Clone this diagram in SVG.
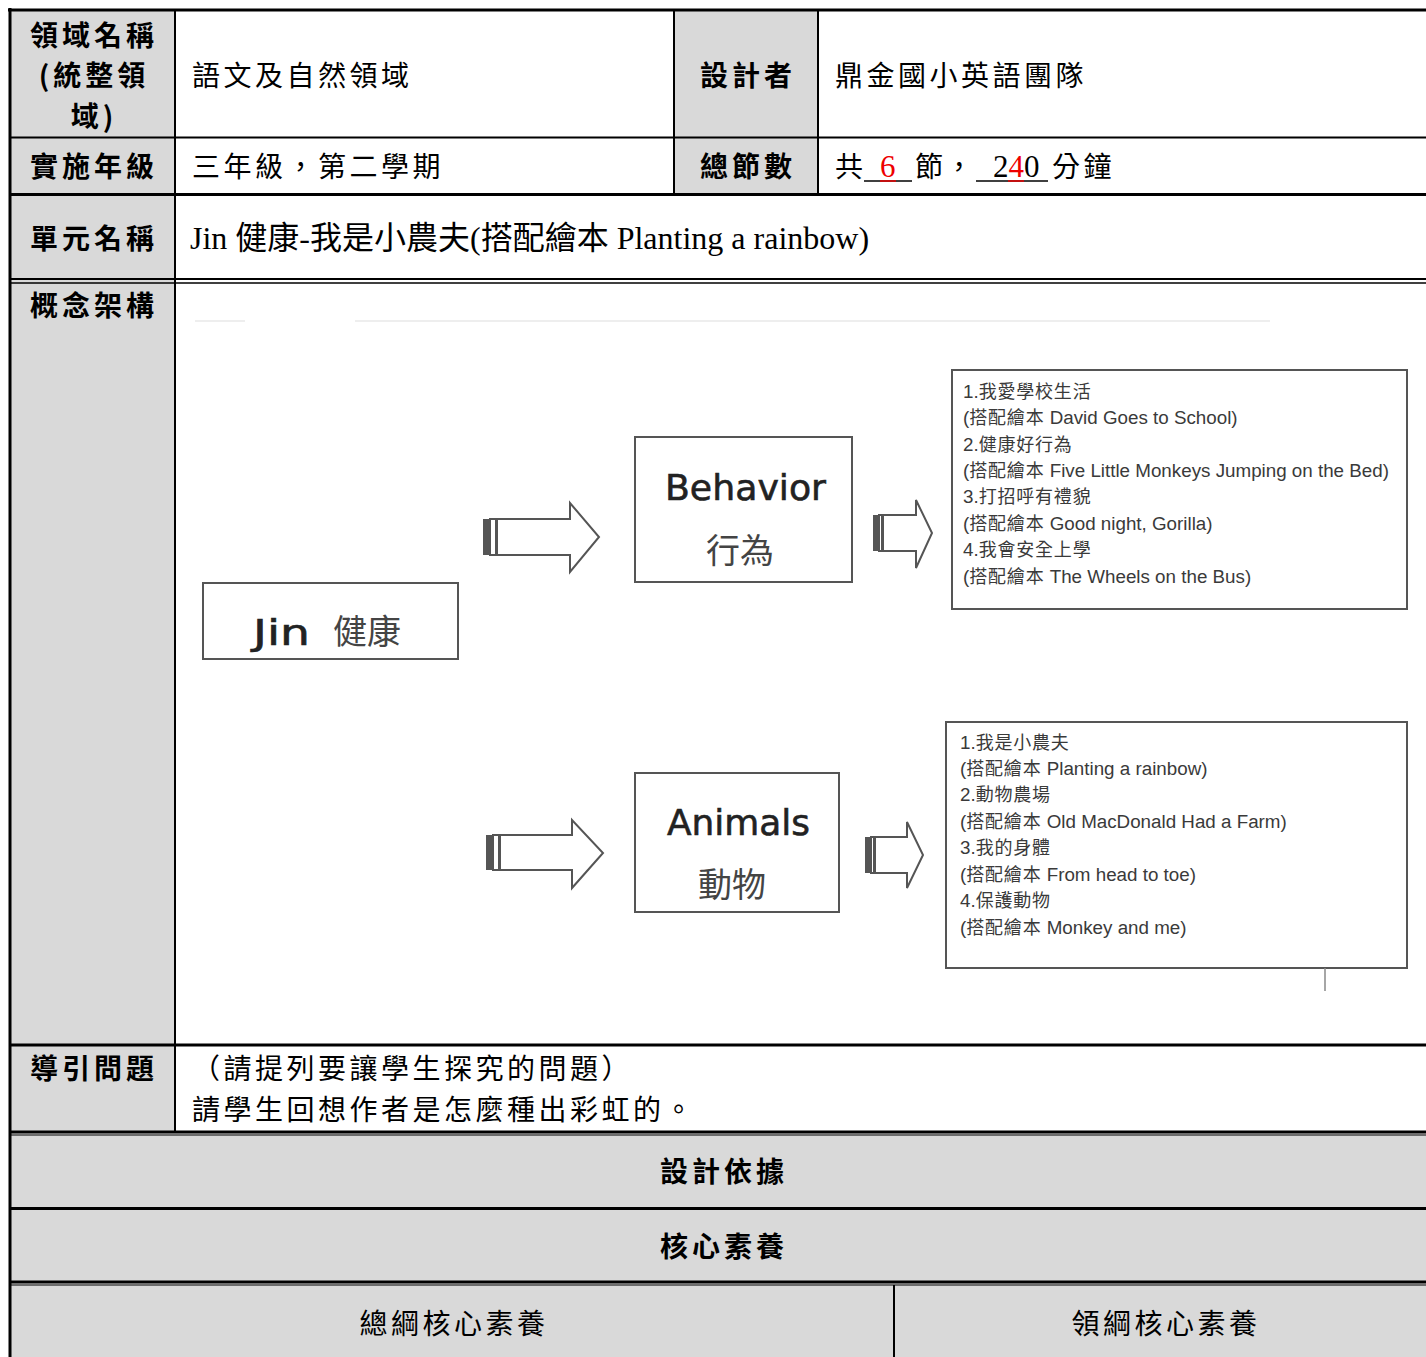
<svg xmlns="http://www.w3.org/2000/svg" width="1426" height="1357" viewBox="0 0 1426 1357">
<style>
.lbl{font-family:"Noto Sans CJK TC",sans-serif;font-weight:700;font-size:28px;letter-spacing:4px;fill:#000}
.txt{font-family:"Noto Sans CJK TC",sans-serif;font-weight:400;font-size:28px;letter-spacing:3.5px;fill:#000}
.ser{font-family:"Liberation Serif","Noto Sans CJK TC",serif;font-size:32px;fill:#000}
.num{font-family:"Liberation Serif",serif;font-size:31px}
.gray{fill:#d9d9d9}
.ln{stroke:#000;fill:none}
.box{fill:#fff;stroke:#555;stroke-width:2}
.arr{fill:#fff;stroke:#555;stroke-width:2;stroke-linejoin:miter}
.stripe{fill:#555}
.dg{font-family:"DejaVu Sans",sans-serif;font-size:36px;fill:#222;stroke:#222;stroke-width:0.6}
.dc{font-family:"Noto Sans CJK TC",sans-serif;font-size:34px;fill:#444}
.lst{font-family:"Liberation Sans","Noto Sans CJK TC",sans-serif;font-size:18.8px;fill:#3a3a3a}
.c{font-family:"Noto Sans CJK TC",sans-serif;font-size:18px;letter-spacing:0.8px}
</style>
<rect width="1426" height="1357" fill="#fff"/>
<g id="backgrounds">
<rect class="gray" x="10" y="10" width="165" height="1123"/>
<rect class="gray" x="674" y="10" width="144" height="184"/>
<rect class="gray" x="10" y="1133" width="1416" height="224"/>
</g>
<g id="grid">
<line class="ln" x1="8" y1="10" x2="1426" y2="10" stroke-width="3"/>
<line class="ln" x1="10" y1="8" x2="10" y2="1357" stroke-width="3"/>
<line class="ln" x1="175" y1="10" x2="175" y2="1133" stroke-width="2"/>
<line class="ln" x1="674" y1="10" x2="674" y2="194" stroke-width="2"/>
<line class="ln" x1="818" y1="10" x2="818" y2="194" stroke-width="2"/>
<line class="ln" x1="10" y1="137.5" x2="1426" y2="137.5" stroke-width="2"/>
<line class="ln" x1="10" y1="194.5" x2="1426" y2="194.5" stroke-width="3"/>
<line class="ln" x1="10" y1="279" x2="1426" y2="279" stroke-width="2"/>
<line class="ln" x1="10" y1="283" x2="1426" y2="283" stroke-width="1.5"/>
<line class="ln" x1="10" y1="1045" x2="1426" y2="1045" stroke-width="3"/>
<line class="ln" x1="10" y1="1132" x2="1426" y2="1132" stroke-width="3"/>
<line class="ln" x1="10" y1="1135" x2="1426" y2="1135" stroke-width="1"/>
<line class="ln" x1="10" y1="1208.5" x2="1426" y2="1208.5" stroke-width="3"/>
<line class="ln" x1="10" y1="1282" x2="1426" y2="1282" stroke-width="3"/>
<line class="ln" x1="10" y1="1285" x2="1426" y2="1285" stroke-width="1"/>
<line class="ln" x1="894" y1="1285" x2="894" y2="1357" stroke-width="2"/>
</g>
<g id="labels">
<text class="lbl" x="94" y="46" text-anchor="middle">領域名稱</text>
<text class="lbl" x="94" y="86" text-anchor="middle">(統整領</text>
<text class="lbl" x="94" y="127" text-anchor="middle">域)</text>
<text class="lbl" x="94" y="177" text-anchor="middle">實施年級</text>
<text class="lbl" x="94" y="249" text-anchor="middle">單元名稱</text>
<text class="lbl" x="94" y="316" text-anchor="middle">概念架構</text>
<text class="lbl" x="94" y="1079" text-anchor="middle">導引問題</text>
<text class="lbl" x="748" y="86" text-anchor="middle">設計者</text>
<text class="lbl" x="748" y="177" text-anchor="middle">總節數</text>
<text class="lbl" x="724" y="1182" text-anchor="middle">設計依據</text>
<text class="lbl" x="724" y="1257" text-anchor="middle">核心素養</text>
</g>
<g id="contents">
<text class="txt" x="192" y="86">語文及自然領域</text>
<text class="txt" x="835" y="86">鼎金國小英語團隊</text>
<text class="txt" x="192" y="177">三年級，第二學期</text>
<text class="txt" x="835" y="177">共</text>
<text class="txt" x="915" y="177">節</text>
<text class="txt" x="945" y="177">，</text>
<text class="txt" x="1052" y="177">分鐘</text>
<line x1="864" y1="181" x2="912" y2="181" stroke="#000" stroke-width="1.5"/>
<line x1="880" y1="181" x2="896" y2="181" stroke="#e00" stroke-width="1.5"/>
<text class="num" x="880" y="177" fill="#e00">6</text>
<line x1="976" y1="181" x2="1048" y2="181" stroke="#000" stroke-width="1.5"/>
<line x1="1008" y1="181" x2="1024" y2="181" stroke="#e00" stroke-width="1.5"/>
<text class="num" x="993" y="177" fill="#000">2<tspan fill="#e00">4</tspan>0</text>
<text class="ser" x="190" y="249">Jin 健康-我是小農夫(搭配繪本 Planting a rainbow)</text>
<text class="txt" x="192" y="1079">（請提列要讓學生探究的問題）</text>
<text class="txt" x="192" y="1120">請學生回想作者是怎麼種出彩虹的。</text>
<text class="txt" x="454" y="1334" text-anchor="middle">總綱核心素養</text>
<text class="txt" x="1166" y="1334" text-anchor="middle">領綱核心素養</text>
</g>
<g id="concept-map">
<line x1="195" y1="321" x2="245" y2="321" stroke="#eee" stroke-width="2"/>
<line x1="355" y1="321" x2="1270" y2="321" stroke="#eee" stroke-width="2"/>
<g id="node-jin">
<rect class="box" x="203" y="583" width="255" height="76"/>
<text class="dg" x="253" y="645" textLength="57" lengthAdjust="spacingAndGlyphs">Jin</text>
<text class="dc" x="333" y="644">健康</text>
</g>
<g id="node-behavior">
<rect class="box" x="635" y="437" width="217" height="145"/>
<text class="dg" x="665" y="500" textLength="161" lengthAdjust="spacingAndGlyphs">Behavior</text>
<text class="dc" x="706" y="563">行為</text>
</g>
<g id="node-animals">
<rect class="box" x="635" y="773" width="204" height="139"/>
<text class="dg" x="667" y="835" textLength="143" lengthAdjust="spacingAndGlyphs">Animals</text>
<text class="dc" x="698" y="897">動物</text>
</g>
<g id="node-list1">
<rect class="box" x="952" y="370" width="455" height="239"/>
<text class="lst" x="963" y="398">1.<tspan class="c">我愛學校生活</tspan></text>
<text class="lst" x="963" y="424">(<tspan class="c">搭配繪本</tspan> David Goes to School)</text>
<text class="lst" x="963" y="451">2.<tspan class="c">健康好行為</tspan></text>
<text class="lst" x="963" y="477">(<tspan class="c">搭配繪本</tspan> Five Little Monkeys Jumping on the Bed)</text>
<text class="lst" x="963" y="503">3.<tspan class="c">打招呼有禮貌</tspan></text>
<text class="lst" x="963" y="530">(<tspan class="c">搭配繪本</tspan> Good night, Gorilla)</text>
<text class="lst" x="963" y="556">4.<tspan class="c">我會安全上學</tspan></text>
<text class="lst" x="963" y="583">(<tspan class="c">搭配繪本</tspan> The Wheels on the Bus)</text>
</g>
<g id="node-list2">
<rect class="box" x="946" y="722" width="461" height="246"/>
<text class="lst" x="960" y="749">1.<tspan class="c">我是小農夫</tspan></text>
<text class="lst" x="960" y="775">(<tspan class="c">搭配繪本</tspan> Planting a rainbow)</text>
<text class="lst" x="960" y="801">2.<tspan class="c">動物農場</tspan></text>
<text class="lst" x="960" y="828">(<tspan class="c">搭配繪本</tspan> Old MacDonald Had a Farm)</text>
<text class="lst" x="960" y="854">3.<tspan class="c">我的身體</tspan></text>
<text class="lst" x="960" y="881">(<tspan class="c">搭配繪本</tspan> From head to toe)</text>
<text class="lst" x="960" y="907">4.<tspan class="c">保護動物</tspan></text>
<text class="lst" x="960" y="934">(<tspan class="c">搭配繪本</tspan> Monkey and me)</text>
</g>
<line x1="1325" y1="968" x2="1325" y2="991" stroke="#888" stroke-width="1.5"/>
</g>
<g id="connectors">
<g id="arrow1">
<rect class="stripe" x="483" y="519" width="6" height="36"/>
<rect class="arr" x="490" y="519" width="6" height="36" stroke-width="1.5"/>
<polygon class="arr" points="497,519 570,519 570,503 599,537 570,572 570,555 497,555"/>
</g>
<g id="arrow2">
<rect class="stripe" x="873" y="515" width="5" height="36"/>
<rect class="arr" x="879" y="515" width="3" height="36" stroke-width="1"/>
<polygon class="arr" points="883,515 916,515 916,500 932,533 916,568 916,551 883,551"/>
</g>
<g id="arrow3">
<rect class="stripe" x="486" y="835" width="6" height="35"/>
<rect class="arr" x="493" y="835" width="6" height="35" stroke-width="1.5"/>
<polygon class="arr" points="500,835 572,835 572,820 603,853 572,888 572,870 500,870"/>
</g>
<g id="arrow4">
<rect class="stripe" x="865" y="837" width="5" height="36"/>
<rect class="arr" x="871" y="837" width="3" height="36" stroke-width="1"/>
<polygon class="arr" points="875,837 907,837 907,822 923,855 907,888 907,873 875,873"/>
</g>
</g>
</svg>
